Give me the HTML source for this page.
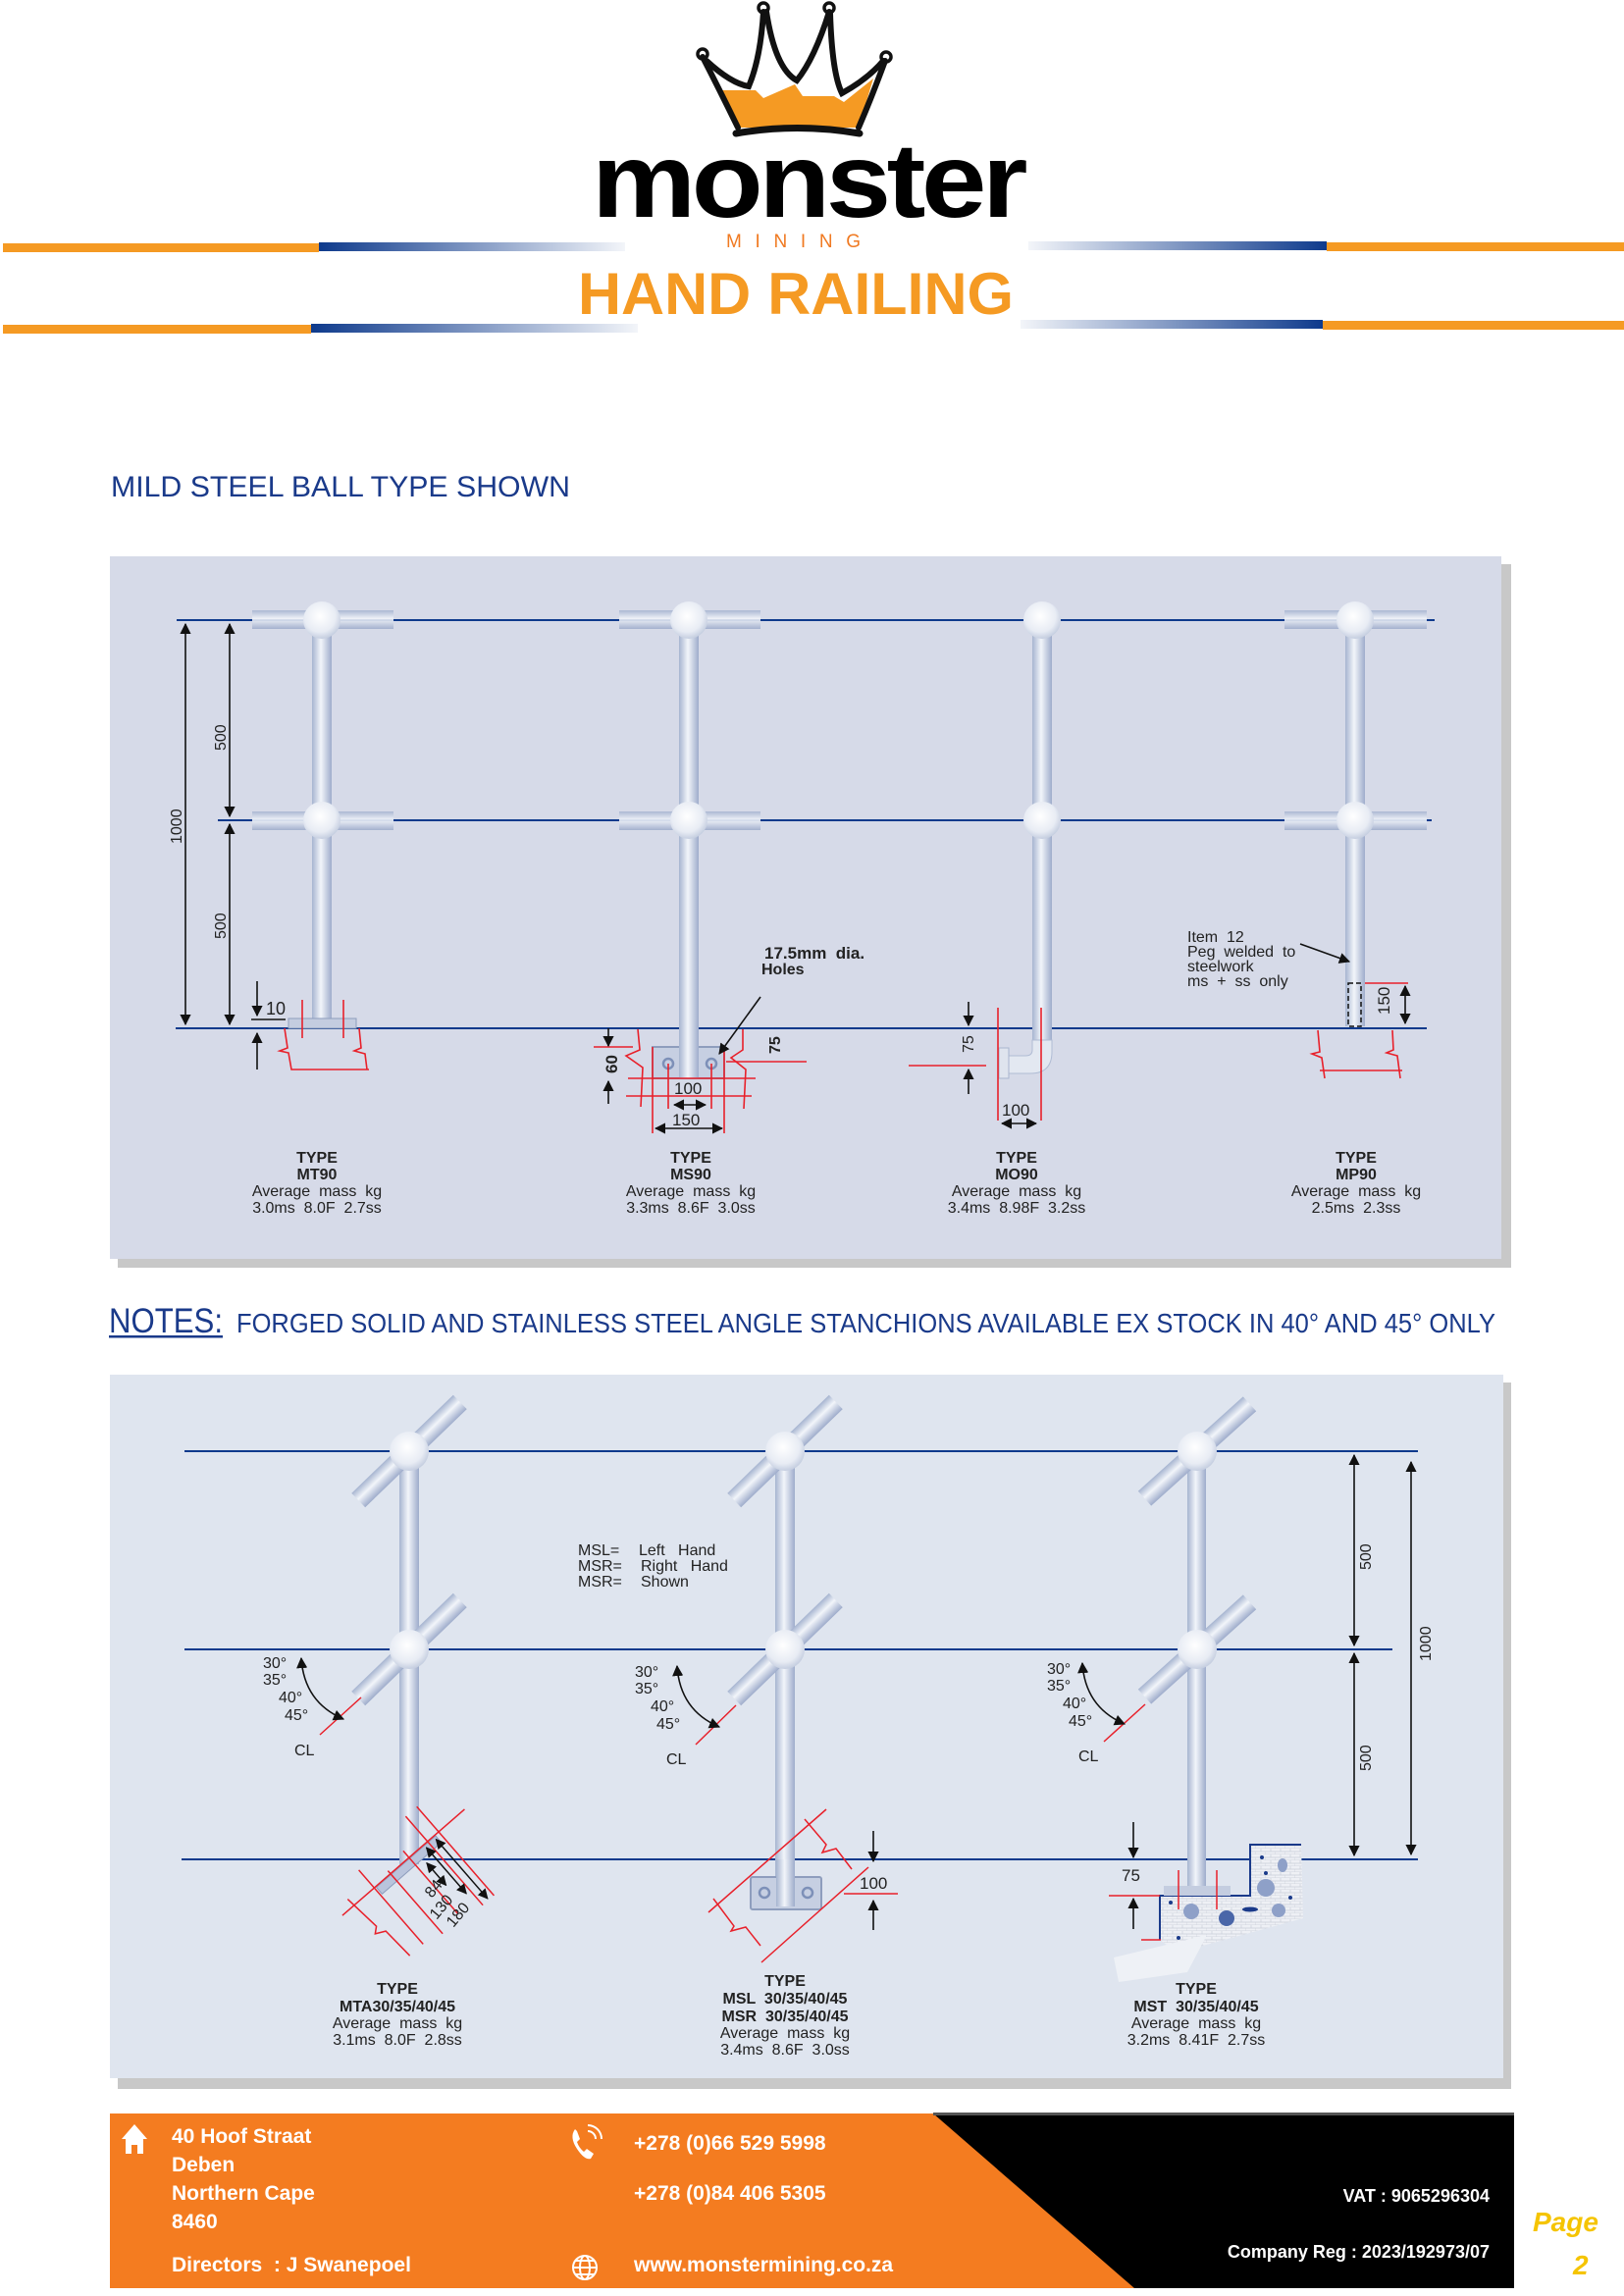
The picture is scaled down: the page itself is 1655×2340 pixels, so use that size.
<!DOCTYPE html>
<html><head><meta charset="utf-8"><style>
html,body{margin:0;padding:0;background:#fff;}
svg{display:block;}
text{font-family:"Liberation Sans",sans-serif;white-space:pre;}
</style></head><body>
<svg width="1655" height="2340" viewBox="0 0 1655 2340" xmlns="http://www.w3.org/2000/svg" xml:space="preserve">
<defs>
<linearGradient id="pv" x1="0" y1="0" x2="1" y2="0"><stop offset="0" stop-color="#a6b4d0"/><stop offset="0.45" stop-color="#f2f5fa"/><stop offset="1" stop-color="#9eaccb"/></linearGradient>
<linearGradient id="ph" x1="0" y1="0" x2="0" y2="1"><stop offset="0" stop-color="#a6b4d0"/><stop offset="0.45" stop-color="#f2f5fa"/><stop offset="1" stop-color="#9eaccb"/></linearGradient>
<radialGradient id="ball" cx="0.45" cy="0.4" r="0.6"><stop offset="0" stop-color="#ffffff"/><stop offset="0.7" stop-color="#e8ecf4"/><stop offset="1" stop-color="#c5cee0"/></radialGradient>
<linearGradient id="bl1" x1="0" x2="1"><stop offset="0" stop-color="#0e3a8c"/><stop offset="1" stop-color="#0e3a8c" stop-opacity="0.05"/></linearGradient>
<linearGradient id="bl2" x1="1" x2="0"><stop offset="0" stop-color="#0e3a8c"/><stop offset="1" stop-color="#0e3a8c" stop-opacity="0.05"/></linearGradient>
<marker id="ar" viewBox="0 0 10 10" refX="9" refY="5" markerWidth="7" markerHeight="7" orient="auto-start-reverse"><path d="M0,0 L10,5 L0,10 z" fill="#111"/></marker>
<pattern id="brick" width="10" height="6" patternUnits="userSpaceOnUse"><rect width="10" height="6" fill="#eef0f5"/><path d="M0,6 H10 M5,0 V3 M0,3 H10 M10,3 V6" stroke="#c9ced9" stroke-width="0.7" fill="none"/></pattern>
</defs>

<g>
<path d="M752,130 Q740,100 735,92 L770,92 L778,100 L810,86 L818,98 L850,98 L860,104 L890,80 L875,130 Z" fill="#f59a23"/>
<g fill="none" stroke="#111" stroke-width="6" stroke-linecap="round">
<path d="M716,58 Q735,95 752,130"/>
<path d="M720,62 Q745,85 763,88 Q775,60 778,12"/>
<path d="M781,12 Q790,70 812,82 Q830,60 845,12"/>
<path d="M846,14 Q848,75 858,95 Q885,80 900,62"/>
<path d="M902,62 Q888,100 875,130"/>
<path d="M750,136 Q812,125 876,136" stroke-width="7"/>
</g>
<circle cx="778" cy="8" r="5" fill="none" stroke="#111" stroke-width="3.5"/>
<circle cx="845" cy="8" r="5" fill="none" stroke="#111" stroke-width="3.5"/>
<circle cx="716" cy="55" r="5" fill="none" stroke="#111" stroke-width="3.5"/>
<circle cx="903" cy="58" r="5" fill="none" stroke="#111" stroke-width="3.5"/>
<text x="603" y="221" font-size="108" font-weight="bold" fill="#000" textLength="440" lengthAdjust="spacingAndGlyphs" letter-spacing="-4">monster</text>
<text x="740" y="252" font-size="19" fill="#f07a22" font-family="Liberation Serif" textLength="137" lengthAdjust="spacing">MINING</text>
<text x="589" y="320" font-size="60" font-weight="bold" fill="#f59a23" textLength="444" lengthAdjust="spacingAndGlyphs">HAND RAILING</text>
<rect x="3" y="248" width="322" height="9" fill="#f59a23"/>
<rect x="325" y="247" width="312" height="9" fill="url(#bl1)"/>
<rect x="1048" y="246" width="304" height="9" fill="url(#bl2)"/>
<rect x="1352" y="247" width="303" height="9" fill="#f59a23"/>
<rect x="3" y="331" width="314" height="9" fill="#f59a23"/>
<rect x="317" y="330" width="333" height="9" fill="url(#bl1)"/>
<rect x="1040" y="326" width="308" height="9" fill="url(#bl2)"/>
<rect x="1348" y="327" width="307" height="9" fill="#f59a23"/>
<text x="113" y="506" font-size="30" fill="#1a3a8a" textLength="468" lengthAdjust="spacingAndGlyphs">MILD STEEL BALL TYPE SHOWN</text>
</g>

<rect x="120" y="575" width="1420" height="717" fill="#c8c8c8"/>
<rect x="112" y="567" width="1418" height="716" fill="#d6dae8"/>
<g stroke="#0e3a8c" stroke-width="2">
<line x1="180" y1="632" x2="1462" y2="632"/>
<line x1="222" y1="836" x2="1459" y2="836"/>
<line x1="179" y1="1048" x2="1454" y2="1048"/>
</g>
<g>
<rect x="318" y="632" width="20" height="410" fill="url(#pv)"/>
<rect x="257" y="622" width="144" height="19" fill="url(#ph)" opacity="0.9"/>
<rect x="257" y="827" width="144" height="19" fill="url(#ph)" opacity="0.9"/>
<circle cx="328" cy="632" r="19" fill="url(#ball)"/><circle cx="328" cy="836" r="19" fill="url(#ball)"/>
<rect x="294" y="1038" width="69" height="10" fill="#c4cde0" stroke="#8e9dbd"/>

<rect x="692" y="632" width="20" height="460" fill="url(#pv)"/>
<rect x="631" y="622" width="144" height="19" fill="url(#ph)" opacity="0.9"/>
<rect x="631" y="827" width="144" height="19" fill="url(#ph)" opacity="0.9"/>
<circle cx="702" cy="632" r="19" fill="url(#ball)"/><circle cx="702" cy="836" r="19" fill="url(#ball)"/>
<rect x="665" y="1067" width="73" height="32" fill="#c6cfe2" stroke="#8e9dbd" stroke-width="2"/>
<rect x="692" y="1048" width="20" height="51" fill="url(#pv)"/>
<circle cx="681" cy="1084" r="5" fill="none" stroke="#7d90b8" stroke-width="2.5"/>
<circle cx="725" cy="1084" r="5" fill="none" stroke="#7d90b8" stroke-width="2.5"/>

<rect x="1052" y="632" width="20" height="440" fill="url(#pv)"/>
<path d="M1052,1060 L1052,1070 Q1052,1076 1045,1076 L1025,1076 L1025,1094 L1050,1094 Q1072,1094 1072,1072 L1072,1060 Z" fill="#e3e8f1" stroke="#b0bcd4"/>
<rect x="1018" y="1068" width="10" height="31" fill="#dfe4ee" stroke="#a8b5cf"/>
<circle cx="1062" cy="632" r="19" fill="url(#ball)"/><circle cx="1062" cy="836" r="19" fill="url(#ball)"/>

<rect x="1371" y="632" width="20" height="414" fill="url(#pv)"/>
<rect x="1309" y="622" width="145" height="19" fill="url(#ph)" opacity="0.9"/>
<rect x="1309" y="827" width="145" height="19" fill="url(#ph)" opacity="0.9"/>
<circle cx="1381" cy="632" r="19" fill="url(#ball)"/><circle cx="1381" cy="836" r="19" fill="url(#ball)"/>
<rect x="1374" y="1002" width="13" height="44" fill="none" stroke="#111" stroke-width="1.5" stroke-dasharray="5,3"/>
</g>
<g stroke="#e8202a" stroke-width="1.6" fill="none">
<line x1="308" y1="1019" x2="308" y2="1058"/><line x1="350" y1="1019" x2="350" y2="1058"/>
<path d="M290,1048 L293,1068 L285,1071 L294,1073 L297,1090 L376,1090 M366,1048 L368,1068 L361,1071 L372,1074 L374,1090"/>
<line x1="665" y1="1067" x2="665" y2="1155"/><line x1="738" y1="1067" x2="738" y2="1155"/>
<line x1="681" y1="1084" x2="681" y2="1130"/><line x1="725" y1="1084" x2="725" y2="1130"/>
<line x1="640" y1="1099" x2="770" y2="1099"/><line x1="638" y1="1117" x2="766" y2="1117"/>
<path d="M650,1049 L652,1070 L638,1076 L655,1088 L653,1128 M757,1049 L757,1070 L745,1078 L760,1090 L758,1130"/>
<line x1="740" y1="1082" x2="822" y2="1082"/>
<line x1="605" y1="1067" x2="645" y2="1067"/>
<line x1="926" y1="1086" x2="1005" y2="1086"/>
<line x1="1017" y1="1027" x2="1017" y2="1142"/><line x1="1061" y1="1027" x2="1061" y2="1142"/>
<line x1="1391" y1="1002" x2="1435" y2="1002"/>
<path d="M1343,1050 L1345,1072 L1337,1074 L1347,1078 L1350,1099 M1345,1091 L1429,1091 M1419,1050 L1420,1070 L1413,1073 L1424,1076 L1427,1099"/>
</g>
<g stroke="#111" stroke-width="1.6" fill="none">
<line x1="189" y1="636" x2="189" y2="1044" marker-start="url(#ar)" marker-end="url(#ar)"/>
<line x1="234" y1="636" x2="234" y2="832" marker-start="url(#ar)" marker-end="url(#ar)"/>
<line x1="234" y1="840" x2="234" y2="1044" marker-start="url(#ar)" marker-end="url(#ar)"/>
<line x1="262" y1="1000" x2="262" y2="1035" marker-end="url(#ar)"/>
<line x1="256" y1="1039" x2="291" y2="1039"/>
<line x1="262" y1="1090" x2="262" y2="1053" marker-end="url(#ar)"/>
<line x1="620" y1="1048" x2="620" y2="1066" marker-end="url(#ar)"/>
<line x1="620" y1="1125" x2="620" y2="1102" marker-end="url(#ar)"/>
<line x1="687" y1="1126" x2="719" y2="1126" marker-start="url(#ar)" marker-end="url(#ar)"/>
<line x1="668" y1="1150" x2="736" y2="1150" marker-start="url(#ar)" marker-end="url(#ar)"/>
<line x1="775" y1="1016" x2="733" y2="1074" marker-end="url(#ar)"/>
<line x1="987" y1="1021" x2="987" y2="1045" marker-end="url(#ar)"/>
<line x1="987" y1="1115" x2="987" y2="1090" marker-end="url(#ar)"/>
<line x1="1021" y1="1145" x2="1056" y2="1145" marker-start="url(#ar)" marker-end="url(#ar)"/>
<line x1="1325" y1="962" x2="1375" y2="980" marker-end="url(#ar)"/>
<line x1="1432" y1="1005" x2="1432" y2="1043" marker-start="url(#ar)" marker-end="url(#ar)"/>
</g>
<g font-size="16" fill="#222">
<text transform="translate(230,765) rotate(-90)">500</text>
<text transform="translate(230,957) rotate(-90)">500</text>
<text transform="translate(185,860) rotate(-90)">1000</text>
<text x="271" y="1034" font-size="18">10</text>
<text x="779" y="977" font-size="17" font-weight="bold">17.5mm  dia.</text>
<text x="776" y="993" font-size="16" font-weight="bold">Holes</text>
<text transform="translate(629,1094) rotate(-90)" font-size="17" font-weight="bold">60</text>
<text transform="translate(795,1074) rotate(-90)" font-size="16" font-weight="bold">75</text>
<text x="687" y="1115" font-size="17">100</text>
<text x="685" y="1147" font-size="17">150</text>
<text transform="translate(992,1073) rotate(-90)">75</text>
<text x="1021" y="1137" font-size="17">100</text>
<text x="1210" y="960">Item  12</text>
<text x="1210" y="975">Peg  welded  to</text>
<text x="1210" y="990">steelwork</text>
<text x="1210" y="1005">ms  +  ss  only</text>
<text transform="translate(1416,1034) rotate(-90)" font-size="17">150</text>
</g>
<g font-size="16" fill="#222" text-anchor="middle">
<g font-weight="bold"><text x="323" y="1185">TYPE</text><text x="323" y="1202">MT90</text>
<text x="704" y="1185">TYPE</text><text x="704" y="1202">MS90</text>
<text x="1036" y="1185">TYPE</text><text x="1036" y="1202">MO90</text>
<text x="1382" y="1185">TYPE</text><text x="1382" y="1202">MP90</text></g>
<text x="323" y="1219">Average  mass  kg</text><text x="323" y="1236">3.0ms  8.0F  2.7ss</text>
<text x="704" y="1219">Average  mass  kg</text><text x="704" y="1236">3.3ms  8.6F  3.0ss</text>
<text x="1036" y="1219">Average  mass  kg</text><text x="1036" y="1236">3.4ms  8.98F  3.2ss</text>
<text x="1382" y="1219">Average  mass  kg</text><text x="1382" y="1236">2.5ms  2.3ss</text>
</g>

<text x="111" y="1358" font-size="35" fill="#1a3a8a" textLength="116" lengthAdjust="spacingAndGlyphs">NOTES:</text>
<rect x="111" y="1361" width="116" height="2.5" fill="#1a3a8a"/>
<text x="241" y="1358" font-size="28" fill="#1a3a8a" textLength="1283" lengthAdjust="spacingAndGlyphs">FORGED SOLID AND STAINLESS STEEL ANGLE STANCHIONS AVAILABLE EX STOCK IN 40° AND 45° ONLY</text>

<rect x="120" y="1409" width="1420" height="720" fill="#c8c8c8"/>
<rect x="112" y="1401" width="1420" height="717" fill="#dfe5ef"/>
<g stroke="#0e3a8c" stroke-width="2">
<line x1="188" y1="1479" x2="1445" y2="1479"/>
<line x1="188" y1="1681" x2="1419" y2="1681"/>
<line x1="185" y1="1895" x2="1445" y2="1895"/>
</g>
<g>
<rect x="407" y="1479" width="20" height="421" fill="url(#pv)"/>
<rect x="790" y="1479" width="20" height="458" fill="url(#pv)"/>
<rect x="1210" y="1479" width="19" height="445" fill="url(#pv)"/>
<g fill="url(#ph)">
<rect x="-72" y="-10" width="144" height="20" transform="translate(417,1479) rotate(-44)"/>
<rect x="-72" y="-10" width="144" height="20" transform="translate(417,1681) rotate(-44)"/>
<rect x="-72" y="-10" width="144" height="20" transform="translate(800,1479) rotate(-44)"/>
<rect x="-72" y="-10" width="144" height="20" transform="translate(800,1681) rotate(-44)"/>
<rect x="-72" y="-10" width="144" height="20" transform="translate(1220,1479) rotate(-42)"/>
<rect x="-72" y="-10" width="144" height="20" transform="translate(1220,1681) rotate(-42)"/>
</g>
<circle cx="417" cy="1479" r="20" fill="url(#ball)"/><circle cx="417" cy="1681" r="20" fill="url(#ball)"/>
<circle cx="800" cy="1479" r="20" fill="url(#ball)"/><circle cx="800" cy="1681" r="20" fill="url(#ball)"/>
<circle cx="1220" cy="1479" r="20" fill="url(#ball)"/><circle cx="1220" cy="1681" r="20" fill="url(#ball)"/>
<g transform="translate(417,1901) rotate(-41)">
<rect x="-40" y="-5" width="80" height="9" fill="#b9c4dc" stroke="#8e9dbd"/>
<g stroke="#e8202a" stroke-width="1.5" fill="none">
<line x1="-85" y1="-6" x2="80" y2="-6"/>
<line x1="-42" y1="-30" x2="-42" y2="70"/><line x1="-20" y1="-10" x2="-20" y2="75"/>
<line x1="5" y1="-15" x2="5" y2="70"/><line x1="30" y1="-40" x2="30" y2="80"/><line x1="45" y1="-40" x2="45" y2="80"/>
<path d="M-70,-15 L-66,25 L-72,30 L-62,35 L-60,70"/>
</g>
<g stroke="#111" stroke-width="1.5">
<line x1="15" y1="10" x2="15" y2="40" marker-start="url(#ar)" marker-end="url(#ar)"/>
<line x1="25" y1="-2" x2="25" y2="60" marker-start="url(#ar)" marker-end="url(#ar)"/>
<line x1="38" y1="-2" x2="38" y2="78" marker-start="url(#ar)" marker-end="url(#ar)"/>
</g>
</g>
<text transform="translate(440,1935) rotate(-50)" font-size="16" fill="#222">84</text>
<text transform="translate(445,1957) rotate(-50)" font-size="16" fill="#222">130</text>
<text transform="translate(462,1965) rotate(-50)" font-size="16" fill="#222">180</text>
<rect x="765" y="1913" width="72" height="33" rx="2" fill="#c6cfe2" stroke="#8e9dbd" stroke-width="2"/>
<rect x="791" y="1895" width="19" height="48" fill="url(#pv)"/>
<circle cx="779" cy="1929" r="5" fill="none" stroke="#7d90b8" stroke-width="2.5"/>
<circle cx="823" cy="1929" r="5" fill="none" stroke="#7d90b8" stroke-width="2.5"/>
<path d="M1182,1977 L1182,1932 L1274,1932 L1274,1880 L1326,1880 L1328,1955 L1200,1990 Z" fill="url(#brick)"/>
<path d="M1135,1995 L1230,1972 L1210,2010 L1140,2020 Z" fill="#eef1f6"/>
<path d="M1182,1977 L1182,1932 L1274,1932 L1274,1880 L1326,1880" fill="none" stroke="#1a3a8a" stroke-width="2"/>
<rect x="1186" y="1922" width="68" height="10" fill="#c4cde0"/>
<g fill="#8ea0c8"><circle cx="1214" cy="1948" r="8"/><circle cx="1290" cy="1924" r="9"/><circle cx="1303" cy="1947" r="7"/><ellipse cx="1307" cy="1901" rx="5" ry="7"/></g>
<circle cx="1250" cy="1955" r="8" fill="#4a66a8"/>
<g fill="#1a3a8a"><circle cx="1193" cy="1939" r="2"/><circle cx="1201" cy="1975" r="2"/><circle cx="1286" cy="1893" r="2"/><circle cx="1290" cy="1909" r="2"/><circle cx="1315" cy="1934" r="2"/></g>
<ellipse cx="1274" cy="1946" rx="8" ry="2.5" fill="#1a3a8a"/>
</g>
<g stroke="#e8202a" stroke-width="1.5" fill="none">
<line x1="326" y1="1768" x2="368" y2="1730"/>
<line x1="709" y1="1778" x2="750" y2="1738"/>
<line x1="1125" y1="1775" x2="1167" y2="1737"/>
<line x1="722" y1="1949" x2="842" y2="1844"/>
<line x1="776" y1="2000" x2="885" y2="1903"/>
<path d="M727,1935 L748,1963 L745,1968 L760,1964 L775,1983"/>
<path d="M820,1854 L842,1880 L838,1888 L852,1884 L868,1905"/>
<line x1="860" y1="1930" x2="915" y2="1930"/>
<line x1="1130" y1="1932" x2="1182" y2="1932"/>
<line x1="1163" y1="1977" x2="1183" y2="1977"/>
<line x1="1201" y1="1906" x2="1201" y2="1946"/><line x1="1240" y1="1906" x2="1240" y2="1946"/>
</g>
<g stroke="#111" stroke-width="1.6" fill="none">
<path d="M307,1690 Q310,1735 350,1752" marker-start="url(#ar)" marker-end="url(#ar)"/>
<path d="M690,1698 Q693,1743 733,1760" marker-start="url(#ar)" marker-end="url(#ar)"/>
<path d="M1103,1695 Q1106,1740 1146,1757" marker-start="url(#ar)" marker-end="url(#ar)"/>
<line x1="890" y1="1866" x2="890" y2="1897" marker-end="url(#ar)"/>
<line x1="890" y1="1967" x2="890" y2="1937" marker-end="url(#ar)"/>
<line x1="1155" y1="1857" x2="1155" y2="1893" marker-end="url(#ar)"/>
<line x1="1155" y1="1966" x2="1155" y2="1935" marker-end="url(#ar)"/>
<line x1="1380" y1="1483" x2="1380" y2="1677" marker-start="url(#ar)" marker-end="url(#ar)"/>
<line x1="1380" y1="1685" x2="1380" y2="1891" marker-start="url(#ar)" marker-end="url(#ar)"/>
<line x1="1438" y1="1490" x2="1438" y2="1890" marker-start="url(#ar)" marker-end="url(#ar)"/>
</g>
<g font-size="16" fill="#222">
<text x="268" y="1700">30°</text><text x="268" y="1717">35°</text><text x="284" y="1735">40°</text><text x="290" y="1753">45°</text><text x="300" y="1789">CL</text>
<text x="647" y="1709">30°</text><text x="647" y="1726">35°</text><text x="663" y="1744">40°</text><text x="669" y="1762">45°</text><text x="679" y="1798">CL</text>
<text x="1067" y="1706">30°</text><text x="1067" y="1723">35°</text><text x="1083" y="1741">40°</text><text x="1089" y="1759">45°</text><text x="1099" y="1795">CL</text>
<text x="589" y="1585">MSL=</text><text x="651" y="1585">Left   Hand</text>
<text x="589" y="1601">MSR=</text><text x="653" y="1601">Right   Hand</text>
<text x="589" y="1617">MSR=</text><text x="653" y="1617">Shown</text>
<text x="876" y="1925" font-size="17">100</text>
<text x="1143" y="1917" font-size="17">75</text>
<text transform="translate(1397,1600) rotate(-90)">500</text>
<text transform="translate(1397,1805) rotate(-90)">500</text>
<text transform="translate(1458,1693) rotate(-90)">1000</text>
</g>
<g font-size="16" fill="#222" text-anchor="middle">
<g font-weight="bold"><text x="405" y="2032">TYPE</text><text x="405" y="2050">MTA30/35/40/45</text>
<text x="800" y="2024">TYPE</text><text x="800" y="2042">MSL  30/35/40/45</text><text x="800" y="2060">MSR  30/35/40/45</text>
<text x="1219" y="2032">TYPE</text><text x="1219" y="2050">MST  30/35/40/45</text></g>
<text x="405" y="2067">Average  mass  kg</text><text x="405" y="2084">3.1ms  8.0F  2.8ss</text>
<text x="800" y="2077">Average  mass  kg</text><text x="800" y="2094">3.4ms  8.6F  3.0ss</text>
<text x="1219" y="2067">Average  mass  kg</text><text x="1219" y="2084">3.2ms  8.41F  2.7ss</text>
</g>

<rect x="112" y="2154" width="1431" height="178" fill="#f47c20"/>
<polygon points="951,2154 1543,2154 1543,2332 1156,2332" fill="#000"/>
<rect x="951" y="2153" width="592" height="3" fill="#555"/>
<g fill="#fff">
<path d="M137,2165 L124,2180 L128,2180 L128,2195 L134,2195 L134,2186 L140,2186 L140,2195 L146,2195 L146,2180 L150,2180 Z"/>
<path d="M586,2170 q-6,8 2,20 q8,12 14,10 l3,-5 -7,-5 -3,3 q-5,-4 -7,-10 l3,-3 -3,-8 z"/>
<g fill="none" stroke="#fff" stroke-width="2"><path d="M599,2172 a8,8 0 0 1 8,8 M599,2166 a14,14 0 0 1 14,14"/>
<circle cx="596" cy="2311" r="12"/><ellipse cx="596" cy="2311" rx="5" ry="12"/><line x1="584" y1="2311" x2="608" y2="2311"/><line x1="586" y1="2304" x2="606" y2="2304"/><line x1="586" y1="2318" x2="606" y2="2318"/></g>
</g>
<g font-size="21" fill="#fff" font-weight="bold">
<text x="175" y="2184">40 Hoof Straat</text>
<text x="175" y="2213">Deben</text>
<text x="175" y="2242">Northern Cape</text>
<text x="175" y="2271">8460</text>
<text x="175" y="2315">Directors  : J Swanepoel</text>
<text x="646" y="2191">+278 (0)66 529 5998</text>
<text x="646" y="2242">+278 (0)84 406 5305</text>
<text x="646" y="2315">www.monstermining.co.za</text>
<text x="1518" y="2244" font-size="18" text-anchor="end">VAT : 9065296304</text>
<text x="1518" y="2301" font-size="18" text-anchor="end">Company Reg : 2023/192973/07</text>
</g>
<text x="1562" y="2274" font-size="28" font-weight="bold" font-style="italic" fill="#f5c400" font-family="Liberation Serif">Page</text>
<text x="1603" y="2318" font-size="28" font-weight="bold" font-style="italic" fill="#f5c400" font-family="Liberation Serif">2</text>
</svg>
</body></html>
